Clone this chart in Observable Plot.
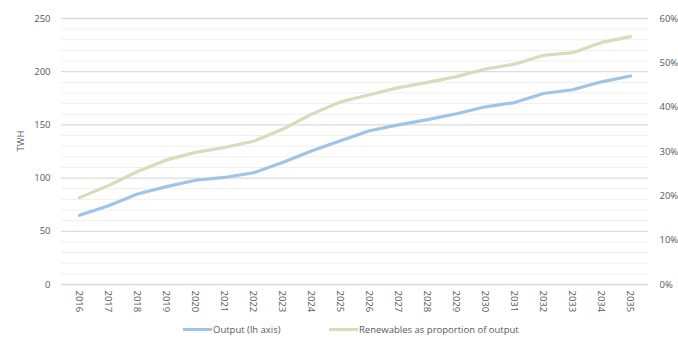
<!DOCTYPE html>
<html>
<head>
<meta charset="utf-8">
<script src="https://cdn.jsdelivr.net/npm/d3@7"></script>
<script src="https://cdn.jsdelivr.net/npm/@observablehq/plot@0.6"></script>
<style>
  body { margin: 0; background: #fff; font-family: "Open Sans", "Liberation Sans", sans-serif; }
  #chart svg { display: block; }
  .legend { position: relative; height: 25px; font-size: 9.5px; color: #595959; }
  .legend .item { position: absolute; top: 5px; display: flex; align-items: center; }
  .legend .swatch { width: 29px; height: 3px; margin-right: 1px; }
</style>
</head>
<body>
<div id="chart"></div>
<div class="legend">
  <div class="item" style="left:183px"><span class="swatch" style="background:#9fc4e8"></span>Output (lh axis)</div>
  <div class="item" style="left:329px"><span class="swatch" style="background:#d2dfba"></span>Renewables as proportion of output</div>
</div>
<script>
// Years on the category axis
const years = ["2016","2017","2018","2019","2020","2021","2022","2023","2024","2025",
               "2026","2027","2028","2029","2030","2031","2032","2033","2034","2035"];
// Electricity output, TWh (left axis)
const output = [65, 74, 85, 92, 98, 100.6, 105, 114.7, 125.5, 135,
                144.5, 150, 155, 160.5, 167, 171, 179.5, 183, 190.5, 196];
// Renewables share of output, % (right axis)
const renewablesPct = [19.6, 22.3, 25.5, 28.1, 29.8, 30.9, 32.3, 35.0, 38.4, 41.2,
                       42.8, 44.4, 45.6, 46.9, 48.6, 49.7, 51.7, 52.3, 54.6, 55.9];
// Axis ticks
const leftTicks = [0, 50, 100, 150, 200, 250];
const minorTicks = d3.range(0, 251, 10).filter(v => v % 50 !== 0);
const rightTicks = [0, 10, 20, 30, 40, 50, 60];

const yMax = 250, pctMax = 60;
const toLeft = p => p * yMax / pctMax; // percent onto the TWh scale

const rows = years.map((year, i) => ({year, output: output[i], pct: renewablesPct[i]}));

const textColor = "#595959";

const chart = Plot.plot({
  width: 678,
  height: 318,
  marginLeft: 61,
  marginRight: 30,
  marginTop: 18,
  marginBottom: 34,
  style: {fontFamily: "'Open Sans', 'Liberation Sans', sans-serif", fontSize: "9.5px", color: textColor},
  x: {type: "point", domain: years, padding: 0.5},
  y: {domain: [0, yMax]},
  marks: [
    Plot.ruleY(minorTicks, {stroke: "#efefef", strokeWidth: 1}),
    Plot.ruleY(leftTicks, {stroke: "#dcdcdc", strokeWidth: 1.3}),
    Plot.axisY(leftTicks, {anchor: "left", tickSize: 0, tickPadding: 11, label: null, fill: textColor}),
    Plot.text(["TWH"], {frameAnchor: "left", dx: -41, dy: 0, rotate: -90, fill: textColor, fontSize: 9.5}),
    Plot.axisY(rightTicks, {
      anchor: "right", y: d => toLeft(d), tickSize: 0, tickPadding: 11,
      tickFormat: d => d + "%", label: null, fill: textColor, textAnchor: "start"
    }),
    Plot.axisX(years, {anchor: "bottom", tickSize: 0, tickPadding: 6, tickRotate: 90, label: null, fill: textColor, textAnchor: "start"}),
    Plot.line(rows, {x: "year", y: d => toLeft(d.pct), stroke: "#d2dfba", strokeWidth: 3.2, curve: "linear"}),
    Plot.line(rows, {x: "year", y: "output", stroke: "#9fc4e8", strokeWidth: 3.2, curve: "linear"})
  ]
});
document.getElementById("chart").appendChild(chart);
</script>
</body>
</html>
